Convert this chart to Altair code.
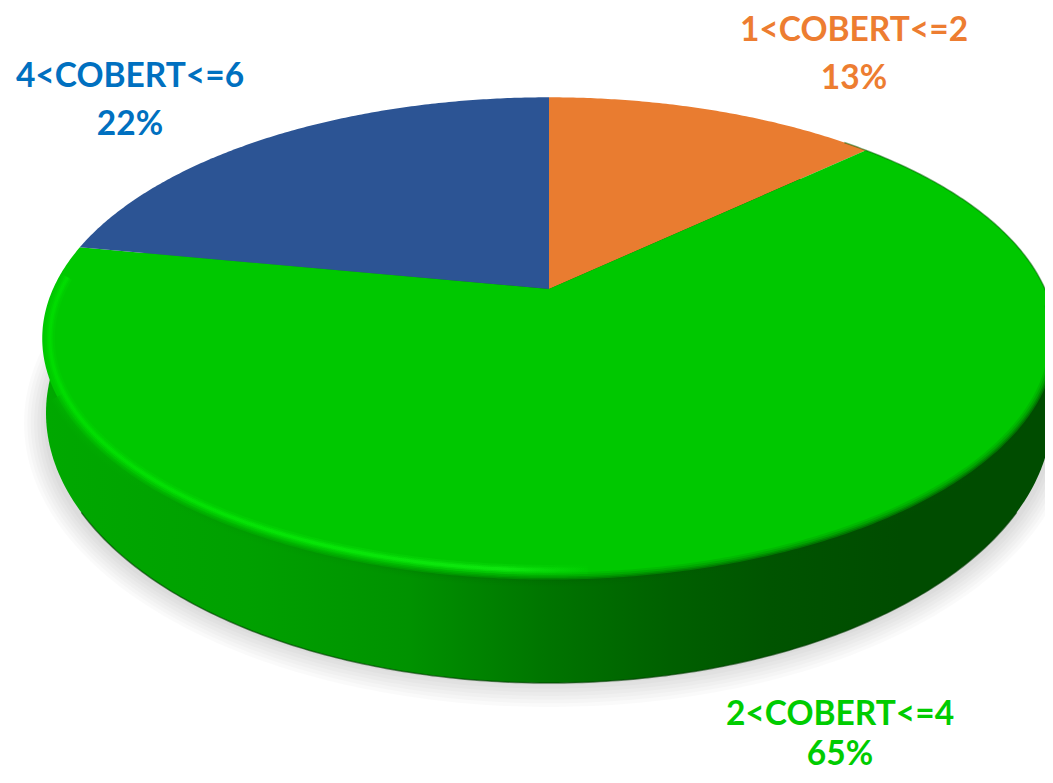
import numpy as np
import pandas as pd
import altair as alt

# ---- values
categories = ["1<COBERT<=2", "2<COBERT<=4", "4<COBERT<=6"]
shares = [13, 65, 22]
slice_colors = ["#E97C30", "#00C800", "#2C5494"]
label_colors = ["#ED7D31", "#00CC00", "#0070C0"]
label_centres = [(854, 41), (840, 725), (130, 87)]
line_gaps = [48, 40, 48]

# ---- perspective disc
CX, CY, A, B, K = 549.0, 289.0, 496.0, 231.0, 0.205
MID_Y = 338.0
W_CY, W_A, W_B = 413.0, 503.0, 270.0


def disc(theta, sx=1.0, sy=1.0):
    u, v = np.sin(theta), np.cos(theta)
    den = 1 + K * v
    x, y = CX + A * u / den, CY - B * v / den
    return CX + sx * (x - CX), MID_Y + sy * (y - MID_Y)


def wall(theta, ca=W_A, cb=W_B, cy=W_CY):
    return CX + ca * np.sin(theta), cy - cb * np.cos(theta)


def frame(xs, ys):
    return pd.DataFrame({"x": xs, "y": ys, "o": np.arange(len(xs))})


X = alt.X("x:Q", axis=None, scale=alt.Scale(domain=[8, 1045], nice=False, zero=False))
Y = alt.Y("y:Q", axis=None, scale=alt.Scale(domain=[775, 8], nice=False, zero=False))


def grad(stops):
    return alt.Gradient(
        gradient="linear", x1=0, x2=1, y1=0, y2=0,
        stops=[alt.GradientStop(offset=o, color=c) for o, c in stops],
    )


def shape(df, **kw):
    return alt.Chart(df).mark_line(clip=True, interpolate="linear", **kw).encode(
        x=X, y=Y, order=alt.Order("o:Q")
    )


layers = []
ring = np.linspace(0, 2 * np.pi, 361)

# soft shadow below the disc
for i in range(7):
    t = i / 6
    xs, ys = wall(ring, 525 - 20 * t, 284 - 22 * t, 423)
    layers.append(shape(frame(xs, ys), fill="#000000", fillOpacity=0.019, strokeOpacity=0))

# side wall
wall_grad = grad([
    (0.0, "#00A800"), (0.2, "#00A000"), (0.36, "#009200"), (0.5, "#007400"),
    (0.62, "#006000"), (0.72, "#005400"), (0.85, "#004C00"), (1.0, "#004C00"),
])
xs, ys = wall(ring)
layers.append(shape(frame(xs, ys), fill=wall_grad, strokeOpacity=0))
low = np.linspace(np.pi * 0.62, np.pi * 1.38, 200)
xs, ys = wall(low)
layers.append(shape(frame(xs, ys), stroke="#003C00", strokeWidth=1.5, strokeOpacity=0.6))

# top face: one polygon per slice, angles follow the shares
edges = np.cumsum([0] + shares) / sum(shares) * 2 * np.pi
for s, e, col in zip(edges[:-1], edges[1:], slice_colors):
    th = np.linspace(s, e, max(int((e - s) * 120), 8))
    ax, ay = disc(th)
    xs = np.concatenate([[CX], ax, [CX]])
    ys = np.concatenate([[CY], ay, [CY]])
    layers.append(shape(frame(xs, ys), fill=col, strokeOpacity=0))

# rim: thin dark line where the face meets white at the upper right
top_right = np.linspace(np.pi * 0.24, np.pi * 0.55, 80)
xs, ys = disc(top_right)
layers.append(shape(frame(xs, ys), stroke="#006000", strokeWidth=1.5, strokeOpacity=0.5))

# rim: soft dark transition from the face to the wall
rim = np.linspace(np.pi * 0.52, np.pi * 1.36, 300)
xs, ys = disc(rim)
dark = grad([(0, "#00B400"), (0.12, "#00A000"), (0.3, "#009000"), (0.5, "#006800"), (0.75, "#005000"), (1, "#004C00")])
for w, op in [(14, 0.12), (10, 0.18), (6, 0.28), (3, 0.4)]:
    layers.append(shape(frame(xs, ys), stroke=dark, strokeWidth=w, strokeOpacity=op))

# rim: bright highlight on the lower left
left = np.linspace(np.pi * 0.98, np.pi * 1.52, 240)
xs, ys = disc(left, 0.985, 0.96)
bright = grad([(0, "#00E000"), (0.5, "#08EC08"), (0.85, "#12EE12"), (1, "#00CC00")])
for w, op in [(10, 0.2), (6, 0.35), (3, 0.6)]:
    layers.append(shape(frame(xs, ys), stroke=bright, strokeWidth=w, strokeOpacity=op))

# labels
labels = pd.DataFrame({
    "text": categories,
    "pct": [f"{v}%" for v in shares],
    "x": [p[0] for p in label_centres],
    "y": [p[1] for p in label_centres],
    "gap": line_gaps,
    "c": label_colors,
})
labels["y2"] = labels["y"] + labels["gap"]
font = dict(font="Lato", fontSize=33.5, fontWeight="bold", align="center", baseline="alphabetic")
layers.append(alt.Chart(labels).mark_text(**font).encode(
    x=X, y=Y, text="text:N", color=alt.Color("c:N", scale=None)))
layers.append(alt.Chart(labels).mark_text(**font).encode(
    x=X, y=alt.Y("y2:Q", axis=None, scale=alt.Scale(domain=[775, 8], nice=False, zero=False)),
    text="pct:N", color=alt.Color("c:N", scale=None)))

chart = alt.layer(*layers).properties(
    width=1037, height=767, padding=0, background="white",
    autosize=alt.AutoSizeParams(type="none"),
).configure_view(stroke=None)

chart.save("out.html", embed_options={"renderer": "svg", "actions": False})
